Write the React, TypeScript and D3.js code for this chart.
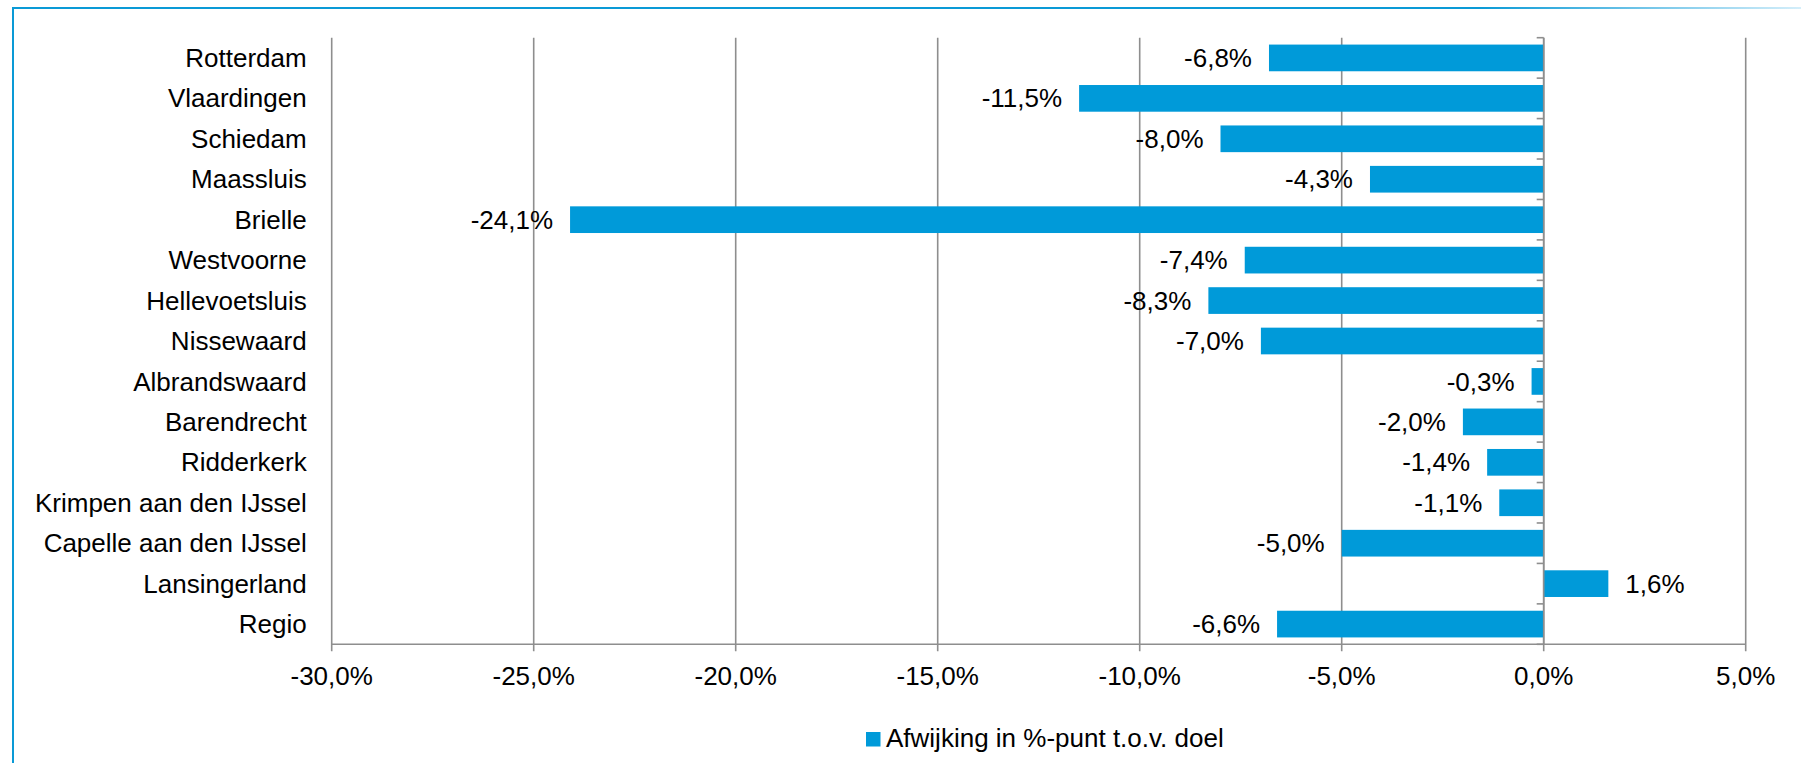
import React from "react";
import * as d3 from "d3";

const categories = [
  "Rotterdam",
  "Vlaardingen",
  "Schiedam",
  "Maassluis",
  "Brielle",
  "Westvoorne",
  "Hellevoetsluis",
  "Nissewaard",
  "Albrandswaard",
  "Barendrecht",
  "Ridderkerk",
  "Krimpen aan den IJssel",
  "Capelle aan den IJssel",
  "Lansingerland",
  "Regio",
];
const values = [-6.8, -11.5, -8.0, -4.3, -24.1, -7.4, -8.3, -7.0, -0.3, -2.0, -1.4, -1.1, -5.0, 1.6, -6.6];
const xTicks = [-30, -25, -20, -15, -10, -5, 0, 5];
const legendLabel = "Afwijking in %-punt t.o.v. doel";

const W = 1801;
const H = 763;
const FONT = "'Liberation Sans', Arial, sans-serif";
const BAR = "#009ad9";
const GRID = "#8e8e8e";

const fmt = (v: number) => v.toFixed(1).replace(".", ",") + "%";

export default function App() {
  const left = 331.7;
  const right = 1745.7;
  const top = 37.7;
  const bottom = 644.3;
  const x = d3.scaleLinear().domain([-30, 5]).range([left, right]);
  const y = d3
    .scaleBand<string>()
    .domain(categories)
    .range([top, bottom])
    .paddingInner(0.34)
    .paddingOuter(0.17);
  const step = y.step();
  const boundaries = d3.range(categories.length + 1).map((i) => top + i * step);
  const x0 = x(0);

  return (
    <svg
      width={W}
      height={H}
      style={{ position: "absolute", left: 0, top: 0, display: "block", background: "#fff" }}
      fontFamily={FONT}
    >
      <defs>
        <linearGradient id="topBorder" gradientUnits="userSpaceOnUse" x1={12} x2={W} y1={0} y2={0}>
          <stop offset="0" stopColor="#0a9ad6" />
          <stop offset="0.82" stopColor="#0a9ad6" />
          <stop offset="1" stopColor="#d4eefa" />
        </linearGradient>
      </defs>
      <rect x={0} y={0} width={W} height={H} fill="#fff" />
      {/* frame */}
      <rect x={12} y={7} width={W - 12} height={2} fill="url(#topBorder)" />
      <rect x={12} y={7} width={2} height={H - 7} fill="#0a9ad6" />

      {/* vertical gridlines */}
      {xTicks.map((t) => (
        <line
          key={"g" + t}
          x1={x(t)}
          x2={x(t)}
          y1={top}
          y2={bottom + 7}
          stroke={GRID}
          strokeWidth={1.6}
        />
      ))}
      {/* x axis */}
      <line x1={left} x2={right} y1={bottom} y2={bottom} stroke={GRID} strokeWidth={1.6} />

      {/* bars */}
      {categories.map((c, i) => {
        const v = values[i];
        const bx = Math.min(x(v), x0);
        const bw = Math.abs(x(v) - x0);
        const yy = y(c)!;
        return (
          <rect key={"b" + c} x={bx} y={yy} width={bw} height={y.bandwidth()} fill={BAR} />
        );
      })}

      {/* zero axis with ticks */}
      <line x1={x0} x2={x0} y1={top} y2={bottom} stroke={GRID} strokeWidth={1.6} />
      {boundaries.map((b, i) => (
        <line key={"t" + i} x1={x0 - 7} x2={x0} y1={b} y2={b} stroke={GRID} strokeWidth={1.6} />
      ))}

      {/* value labels */}
      {categories.map((c, i) => {
        const v = values[i];
        const cy = y(c)! + y.bandwidth() / 2;
        const neg = v < 0;
        return (
          <text
            key={"v" + c}
            x={neg ? x(v) - 17 : x(v) + 17}
            y={cy}
            dy="0.35em"
            textAnchor={neg ? "end" : "start"}
            fontSize={26}
            fill="#000"
          >
            {fmt(v)}
          </text>
        );
      })}

      {/* category labels */}
      {categories.map((c) => (
        <text
          key={"c" + c}
          x={left - 25}
          y={y(c)! + y.bandwidth() / 2}
          dy="0.35em"
          textAnchor="end"
          fontSize={26}
          fill="#000"
        >
          {c}
        </text>
      ))}

      {/* x tick labels */}
      {xTicks.map((t) => (
        <text key={"xl" + t} x={x(t)} y={685} textAnchor="middle" fontSize={26} fill="#000">
          {fmt(t)}
        </text>
      ))}

      {/* legend */}
      <rect x={866} y={732} width={14.5} height={14.5} fill={BAR} />
      <text x={886} y={746.5} fontSize={26} fill="#000">
        {legendLabel}
      </text>
    </svg>
  );
}
